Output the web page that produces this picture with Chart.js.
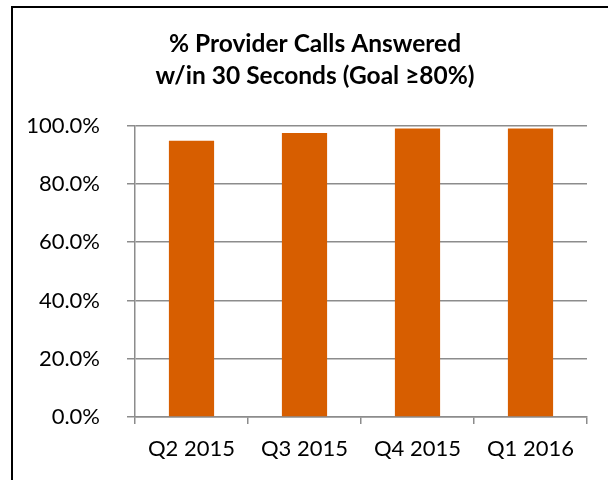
<!DOCTYPE html>
<html>
<head>
<meta charset="utf-8">
<script src="https://cdn.jsdelivr.net/npm/chart.js@4.4.1/dist/chart.umd.min.js"></script>
<style>
  html, body { margin: 0; padding: 0; background: #fff; overflow: hidden; }
  #wrap { position: relative; width: 608px; height: 480px; }
  #frame { position: absolute; left: 11px; top: 6px; width: 700px; height: 600px;
           border-left: 2px solid #000; border-top: 2px solid #000; }
  canvas { position: absolute; left: 0; top: 0; }
</style>
</head>
<body>
<div id="wrap">
  <div id="frame"></div>
  <canvas id="grafico" width="608" height="480"></canvas>
</div>
<script>
// dados do gráfico
const quarters = ['Q2 2015', 'Q3 2015', 'Q4 2015', 'Q1 2016'];
const answeredPct = [94.8, 97.5, 99.0, 99.0];
const yTicks = [0, 20, 40, 60, 80, 100];
const titleLines = ['% Provider Calls Answered', 'w/in 30 Seconds (Goal \u226580%)'];

const fontFamily = 'Lato, "Open Sans", sans-serif';
const gridColor = '#8c8c8c';

const ctx = document.getElementById('grafico');

// desloca o bloco do título para a direita (centralizado como no original)
const shiftTitle = {
    id: 'shiftTitle',
    afterLayout: function (chart) {
        if (chart.titleBlock) {
            chart.titleBlock.left += 43;
        }
    }
};

new Chart(ctx, {
    type: 'bar',
    data: {
        labels: quarters,
        datasets: [{
            data: answeredPct,
            backgroundColor: '#D75E00',
            borderWidth: 0,
            barPercentage: 0.8,
            categoryPercentage: 0.5
        }]
    },
    plugins: [shiftTitle],
    options: {
        responsive: false,
        animation: false,
        layout: { padding: { left: 0, right: 21, top: 0, bottom: 0 } },
        plugins: {
            legend: { display: false },
            tooltip: { enabled: false },
            title: {
                display: true,
                text: titleLines,
                color: '#000',
                font: { family: fontFamily, size: 24.5, weight: 'bold', lineHeight: 1.3 },
                padding: { top: 28, bottom: 34 }
            }
        },
        scales: {
            x: {
                offset: true,
                grid: {
                    offset: true,
                    drawOnChartArea: false,
                    drawTicks: true,
                    tickLength: 7,
                    color: gridColor,
                    lineWidth: 1.5
                },
                border: { display: true, color: gridColor, width: 1.5 },
                ticks: {
                    color: '#000',
                    font: { family: fontFamily, size: 22 },
                    padding: 12,
                    maxRotation: 0
                },
                afterFit: function (scale) { scale.height = 63; }
            },
            y: {
                min: 0,
                max: 100,
                afterBuildTicks: function (scale) {
                    scale.ticks = yTicks.map(v => ({ value: v }));
                },
                grid: {
                    color: gridColor,
                    lineWidth: 1.5,
                    drawTicks: true,
                    tickLength: 8
                },
                border: { display: true, color: gridColor, width: 1.5 },
                ticks: {
                    color: '#000',
                    font: { family: fontFamily, size: 22 },
                    padding: 27,
                    callback: function (value) { return Number(value).toFixed(1) + '%'; }
                },
                afterFit: function (scale) { scale.width = 135; }
            }
        }
    }
});
</script>
</body>
</html>
